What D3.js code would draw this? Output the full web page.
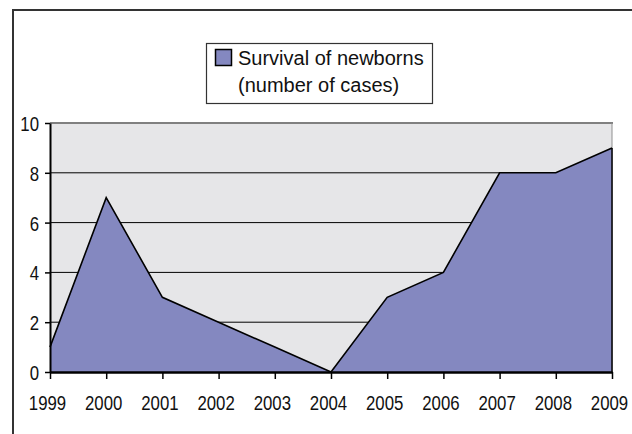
<!DOCTYPE html>
<html>
<head>
<meta charset="utf-8">
<script src="https://cdn.jsdelivr.net/npm/d3@7"></script>
<style>
  body { margin: 0; background: #fff; }
  svg text { font-family: "Liberation Sans", Arial, sans-serif; fill: #111; }
</style>
</head>
<body>
<svg id="chart" width="632" height="434"></svg>
<script>
// Survival of newborns area chart

// Data
var years = ["1999", "2000", "2001", "2002", "2003", "2004", "2005", "2006", "2007", "2008", "2009"];
var cases = [1, 7, 3, 2, 1, 0, 3, 4, 8, 8, 9];
var yTicks = [0, 2, 4, 6, 8, 10];
var seriesName = ["Survival of newborns", "(number of cases)"];

var Left = 50, Right = 612, Top = 123, Bottom = 372;
var AreaColor = "#8488c0", PlotBg = "#e6e6e8";
var Squeeze = 0.8;   // tick labels are a narrow face

var svg = d3.select("#chart");

// outer frame (runs off the right and bottom of the picture)
svg.append("rect")
  .attr("x", 13).attr("y", 10)
  .attr("width", 650).attr("height", 450)
  .style("fill", "none").style("stroke", "#333").style("stroke-width", 2);

var x = d3.scalePoint().domain(years).range([Left, Right]);
var y = d3.scaleLinear().domain([0, 10]).range([Bottom, Top]);

// plot background
svg.append("rect")
  .attr("x", Left).attr("y", Top)
  .attr("width", Right - Left).attr("height", Bottom - Top)
  .style("fill", PlotBg);

// gridlines
svg.selectAll("line.grid")
  .data(yTicks.filter(function(d) { return d > 0 && d < 10; }))
  .enter()
  .append("line")
    .attr("class", "grid")
    .attr("x1", Left).attr("x2", Right)
    .attr("y1", function(d) { return y(d); })
    .attr("y2", function(d) { return y(d); })
    .style("stroke", "#000").style("stroke-width", 1);

// top and right border of the plot, grey
svg.append("line")
  .attr("x1", Left).attr("x2", Right + 1).attr("y1", y(10)).attr("y2", y(10))
  .style("stroke", "#808080").style("stroke-width", 2);
svg.append("line")
  .attr("x1", Right).attr("x2", Right).attr("y1", y(10)).attr("y2", Bottom)
  .style("stroke", "#909090").style("stroke-width", 1);

// the area itself
var pts = years.map(function(d, i) { return { year: d, value: cases[i] }; });

svg.append("path")
  .datum(pts)
  .attr("d", d3.area()
    .x(function(d) { return x(d.year); })
    .y0(y(0))
    .y1(function(d) { return y(d.value); }))
  .style("fill", AreaColor);

svg.append("path")
  .datum(pts)
  .attr("d", d3.line()
    .x(function(d) { return x(d.year); })
    .y(function(d) { return y(d.value); }))
  .style("fill", "none").style("stroke", "#000").style("stroke-width", 1.6)
  .style("stroke-linejoin", "miter");

// right edge of the area is outlined in black
svg.append("line")
  .attr("x1", Right).attr("x2", Right)
  .attr("y1", y(cases[cases.length - 1])).attr("y2", Bottom)
  .style("stroke", "#000").style("stroke-width", 1.5);

// axes
var yAxis = svg.append("g")
  .attr("transform", "translate(" + Left + ",0)")
  .call(d3.axisLeft(y).tickValues(yTicks).tickSize(5).tickSizeOuter(0));
yAxis.select(".domain").style("stroke", "#000").style("stroke-width", 2);
yAxis.selectAll(".tick line").style("stroke", "#000").style("stroke-width", 1.5);
yAxis.selectAll(".tick text")
  .attr("x", -11 / Squeeze).attr("dy", "0.36em")
  .attr("transform", "scale(" + Squeeze + ",1)")
  .style("font-size", "21px").style("fill", "#111");

var xAxis = svg.append("g")
  .attr("transform", "translate(0," + Bottom + ")")
  .call(d3.axisBottom(x).tickSize(7).tickSizeOuter(0));
xAxis.select(".domain").style("stroke", "#000").style("stroke-width", 2.5);
xAxis.selectAll(".tick line").style("stroke", "#000").style("stroke-width", 1.5);
xAxis.selectAll(".tick text")
  .attr("x", -3 / Squeeze).attr("y", 38).attr("dy", 0)
  .attr("transform", "scale(" + Squeeze + ",1)")
  .style("font-size", "21px").style("fill", "#111");
svg.selectAll(".tick text").style("font-family", "'Liberation Sans', Arial, sans-serif");

// legend
var legend = svg.append("g");
legend.append("rect")
  .attr("x", 206.5).attr("y", 43.5)
  .attr("width", 226).attr("height", 60)
  .style("fill", "#fff").style("stroke", "#333").style("stroke-width", 1.2);
legend.append("rect")
  .attr("x", 215.5).attr("y", 49.5)
  .attr("width", 16).attr("height", 16)
  .style("fill", AreaColor).style("stroke", "#000").style("stroke-width", 1.5);
legend.selectAll("text")
  .data(seriesName)
  .enter()
  .append("text")
    .attr("x", 238)
    .attr("y", function(d, i) { return 65 + i * 27; })
    .style("font-size", "20px")
    .text(function(d) { return d; });
</script>
</body>
</html>
